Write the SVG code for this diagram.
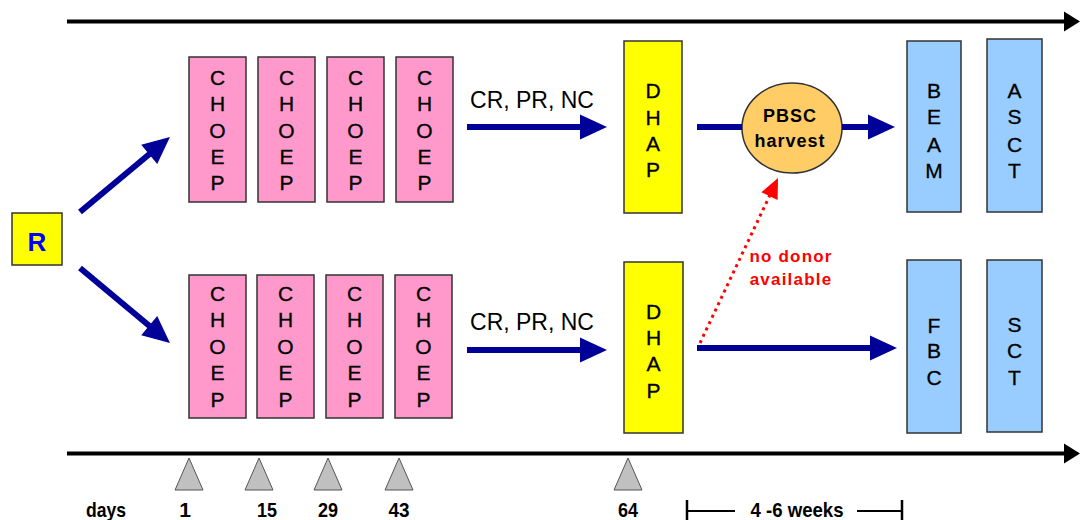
<svg xmlns="http://www.w3.org/2000/svg" width="1080" height="520" viewBox="0 0 1080 520">
<style>
.box{stroke:#333;stroke-width:1.5}
.choep{fill:#FF99CC}
.dhap{fill:#FFFF00}
.blue{fill:#99CCFF}
.lt{font-family:"Liberation Sans",Arial,sans-serif;font-size:21px;fill:#000;text-anchor:middle;stroke:#000;stroke-width:0.3}
.nv{stroke:#000099;stroke-width:6;fill:none}
.ax{stroke:#000;stroke-width:4;fill:none}
.lbl{font-family:"Liberation Sans",Arial,sans-serif;font-size:23px;fill:#000;text-anchor:middle}
.day{font-family:"Liberation Sans",Arial,sans-serif;font-size:21px;font-weight:bold;fill:#000;text-anchor:middle}
.tri{fill:#C0C0C0;stroke:#555;stroke-width:1}
.red{font-family:"Liberation Sans",Arial,sans-serif;font-size:17px;font-weight:bold;fill:#FF0000;text-anchor:middle;letter-spacing:1.2px}
</style>
<defs>
<marker id="nvh" markerUnits="userSpaceOnUse" markerWidth="27" markerHeight="25" refX="7" refY="12.5" orient="auto" overflow="visible">
<path d="M0,0 L27,12.5 L0,25 z" fill="#000099"/>
</marker>
</defs>

<g id="axes">
<line class="ax" x1="67" y1="21.5" x2="1066" y2="21.5"/>
<polygon points="1064,11.5 1080,21.5 1064,31.5" fill="#000"/>
<line class="ax" x1="67" y1="453.5" x2="1066" y2="453.5"/>
<polygon points="1064,443.5 1080,453.5 1064,463.5" fill="#000"/>
</g>

<g id="R">
<rect class="box dhap" x="12" y="213" width="50" height="52"/>
<text x="37" y="251" font-family="Liberation Sans,Arial,sans-serif" font-size="26" font-weight="bold" fill="#0000FF" text-anchor="middle">R</text>
</g>

<g id="choep-top-1"><rect class="box choep" x="189" y="57" width="57" height="145"/>
<text class="lt"><tspan x="217.5" y="85">C</tspan><tspan x="217.5" y="111">H</tspan><tspan x="217.5" y="138">O</tspan><tspan x="217.5" y="164">E</tspan><tspan x="217.5" y="190">P</tspan></text></g>
<g id="choep-top-2"><rect class="box choep" x="258" y="57" width="57" height="145"/>
<text class="lt"><tspan x="286.5" y="85">C</tspan><tspan x="286.5" y="111">H</tspan><tspan x="286.5" y="138">O</tspan><tspan x="286.5" y="164">E</tspan><tspan x="286.5" y="190">P</tspan></text></g>
<g id="choep-top-3"><rect class="box choep" x="327" y="57" width="57" height="145"/>
<text class="lt"><tspan x="355.5" y="85">C</tspan><tspan x="355.5" y="111">H</tspan><tspan x="355.5" y="138">O</tspan><tspan x="355.5" y="164">E</tspan><tspan x="355.5" y="190">P</tspan></text></g>
<g id="choep-top-4"><rect class="box choep" x="396" y="57" width="57" height="145"/>
<text class="lt"><tspan x="424.5" y="85">C</tspan><tspan x="424.5" y="111">H</tspan><tspan x="424.5" y="138">O</tspan><tspan x="424.5" y="164">E</tspan><tspan x="424.5" y="190">P</tspan></text></g>

<g id="choep-bot-1"><rect class="box choep" x="189" y="275" width="57" height="143"/>
<text class="lt"><tspan x="217.5" y="301">C</tspan><tspan x="217.5" y="327">H</tspan><tspan x="217.5" y="354">O</tspan><tspan x="217.5" y="380">E</tspan><tspan x="217.5" y="407">P</tspan></text></g>
<g id="choep-bot-2"><rect class="box choep" x="257" y="275" width="57" height="143"/>
<text class="lt"><tspan x="285.5" y="301">C</tspan><tspan x="285.5" y="327">H</tspan><tspan x="285.5" y="354">O</tspan><tspan x="285.5" y="380">E</tspan><tspan x="285.5" y="407">P</tspan></text></g>
<g id="choep-bot-3"><rect class="box choep" x="326" y="275" width="57" height="143"/>
<text class="lt"><tspan x="354.5" y="301">C</tspan><tspan x="354.5" y="327">H</tspan><tspan x="354.5" y="354">O</tspan><tspan x="354.5" y="380">E</tspan><tspan x="354.5" y="407">P</tspan></text></g>
<g id="choep-bot-4"><rect class="box choep" x="395" y="275" width="57" height="143"/>
<text class="lt"><tspan x="423.5" y="301">C</tspan><tspan x="423.5" y="327">H</tspan><tspan x="423.5" y="354">O</tspan><tspan x="423.5" y="380">E</tspan><tspan x="423.5" y="407">P</tspan></text></g>

<g id="dhap-top"><rect class="box dhap" x="624" y="41" width="58" height="172"/>
<text class="lt"><tspan x="653" y="98">D</tspan><tspan x="653" y="125">H</tspan><tspan x="653" y="151">A</tspan><tspan x="653" y="177">P</tspan></text></g>
<g id="dhap-bot"><rect class="box dhap" x="624" y="262" width="59" height="171"/>
<text class="lt"><tspan x="653.5" y="319">D</tspan><tspan x="653.5" y="345">H</tspan><tspan x="653.5" y="371">A</tspan><tspan x="653.5" y="398">P</tspan></text></g>

<g id="pbsc"><ellipse cx="792" cy="128" rx="50" ry="45" fill="#FFCC66" stroke="#333" stroke-width="1.5"/>
<text x="790" y="122" font-family="Liberation Sans,Arial,sans-serif" font-size="18" font-weight="bold" letter-spacing="1" text-anchor="middle">PBSC</text>
<text x="790" y="147" font-family="Liberation Sans,Arial,sans-serif" font-size="18" font-weight="bold" letter-spacing="1" text-anchor="middle">harvest</text></g>

<g id="beam"><rect class="box blue" x="907" y="41" width="54" height="171"/>
<text class="lt"><tspan x="934" y="98">B</tspan><tspan x="934" y="124">E</tspan><tspan x="934" y="152">A</tspan><tspan x="934" y="178">M</tspan></text></g>
<g id="asct"><rect class="box blue" x="987" y="39" width="55" height="173"/>
<text class="lt"><tspan x="1014.5" y="98">A</tspan><tspan x="1014.5" y="124">S</tspan><tspan x="1014.5" y="152">C</tspan><tspan x="1014.5" y="178">T</tspan></text></g>
<g id="fbc"><rect class="box blue" x="907" y="260" width="54" height="173"/>
<text class="lt"><tspan x="934" y="333">F</tspan><tspan x="934" y="358">B</tspan><tspan x="934" y="385">C</tspan></text></g>
<g id="sct"><rect class="box blue" x="987" y="260" width="55" height="172"/>
<text class="lt"><tspan x="1014.5" y="332">S</tspan><tspan x="1014.5" y="358">C</tspan><tspan x="1014.5" y="385">T</tspan></text></g>

<g id="connectors">
<line class="nv" x1="80" y1="212" x2="154.6" y2="149.8" marker-end="url(#nvh)"/>
<line class="nv" x1="80" y1="268" x2="154.6" y2="330.2" marker-end="url(#nvh)"/>
<line class="nv" x1="467" y1="127" x2="587" y2="127" marker-end="url(#nvh)"/>
<line class="nv" x1="467" y1="350" x2="587" y2="350" marker-end="url(#nvh)"/>
<line class="nv" x1="697" y1="127" x2="742" y2="127"/>
<line class="nv" x1="842" y1="127" x2="875" y2="127" marker-end="url(#nvh)"/>
<line class="nv" x1="697" y1="348" x2="877" y2="348" marker-end="url(#nvh)"/>
<line x1="700" y1="343" x2="770.3" y2="194.3" stroke="#FF0000" stroke-width="3" stroke-dasharray="3,4"/>
<polygon points="778,178 777.6,199.9 761.4,192.3" fill="#FF0000"/>
</g>

<g id="labels">
<text class="lbl" x="532" y="108">CR, PR, NC</text>
<text class="lbl" x="532" y="330">CR, PR, NC</text>
<text class="red" x="791" y="262">no donor</text>
<text class="red" x="791" y="285">available</text>
</g>

<g id="timeline">
<polygon class="tri" points="189,458 175,490 203,490"/>
<polygon class="tri" points="259,458 245,490 273,490"/>
<polygon class="tri" points="328,458 314,490 342,490"/>
<polygon class="tri" points="399,458 385,490 413,490"/>
<polygon class="tri" points="628,458 614,490 642,490"/>
<text class="day" x="106" y="517" textLength="40" lengthAdjust="spacingAndGlyphs">days</text>
<text class="day" x="185" y="517">1</text>
<text class="day" x="267" y="517" textLength="20" lengthAdjust="spacingAndGlyphs">15</text>
<text class="day" x="328" y="517" textLength="20" lengthAdjust="spacingAndGlyphs">29</text>
<text class="day" x="399" y="517" textLength="21" lengthAdjust="spacingAndGlyphs">43</text>
<text class="day" x="628" y="517" textLength="20" lengthAdjust="spacingAndGlyphs">64</text>
<text class="day" x="797" y="517" textLength="93" lengthAdjust="spacingAndGlyphs">4 -6 weeks</text>
<line x1="687" y1="511" x2="735" y2="511" stroke="#000" stroke-width="2"/>
<line x1="857" y1="511" x2="902" y2="511" stroke="#000" stroke-width="2"/>
<line x1="687" y1="500" x2="687" y2="520" stroke="#000" stroke-width="2.5"/>
<line x1="902" y1="500" x2="902" y2="520" stroke="#000" stroke-width="2.5"/>
</g>
</svg>
